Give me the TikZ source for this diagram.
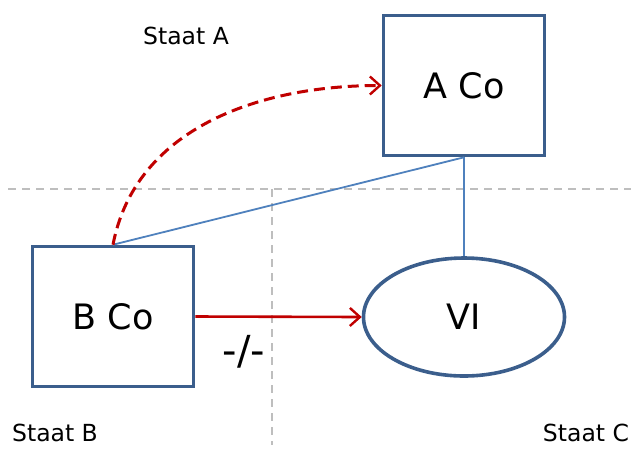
\documentclass[tikz,border=0pt]{standalone}
\usepackage{fontspec}
\setmainfont{DejaVu Sans}
\usetikzlibrary{arrows.meta,shapes.geometric}

\definecolor{firmblue}{RGB}{59,94,140}
\definecolor{linkblue}{RGB}{79,129,189}
\definecolor{flowred}{RGB}{192,0,0}
\definecolor{bordergray}{RGB}{190,190,190}

\begin{document}
\begin{tikzpicture}[x=1pt,y=-1pt,
    firm/.style={draw=firmblue, line width=3.6pt, minimum width=161pt, minimum height=140pt,
      inner sep=0pt, font=\fontsize{35}{40}\selectfont},
    staat/.style={font=\fontsize{23.5}{28}\selectfont, inner sep=0pt},
    border/.style={bordergray, line width=1.8pt, dash pattern=on 8pt off 6pt},
    link/.style={linkblue, line width=1.8pt},
    flow/.style={flowred, line width=2.6pt, -{Straight Barb[length=10pt,width=18pt,line width=2.4pt]}}]
    \useasboundingbox (0,0) rectangle (631,451);
    %\draw[very thin,color=gray] (0,0) grid[step=50] (631,451);
    \coordinate (hl) at (8,189);
    \coordinate (hr) at (631,189);
    \coordinate (vt) at (272,189);
    \coordinate (vb) at (272,445);
    \draw [border] (hl) -- (hr);
    \draw [border] (vt) -- (vb);
    \node [firm] (aco) at (464,85.5) {A Co};
    \node [firm] (bco) at (113,316.5) {B Co};
    \node [firm, ellipse, minimum width=201pt, minimum height=118pt] (vi) at (464,317) {VI};
    \draw [link] (bco.north) -- (aco.south);
    \draw [link] (aco.south) -- (vi.north);
    \draw [flow] (bco.east) -- (vi.west);
    \draw [flow, dash pattern=on 11pt off 6pt, line width=3pt]
      (bco.north) .. controls +(22,-115) and +(-125,0) .. (aco.west);
    \node [font=\fontsize{40}{44}\selectfont, inner sep=0pt] (nofl) at (244,352) {-/-};
    \node [staat] (staata) at (186,36) {Staat A};
    \node [staat] (staatb) at (55,433) {Staat B};
    \node [staat] (staatc) at (586,433) {Staat C};

\end{tikzpicture}
\end{document}
